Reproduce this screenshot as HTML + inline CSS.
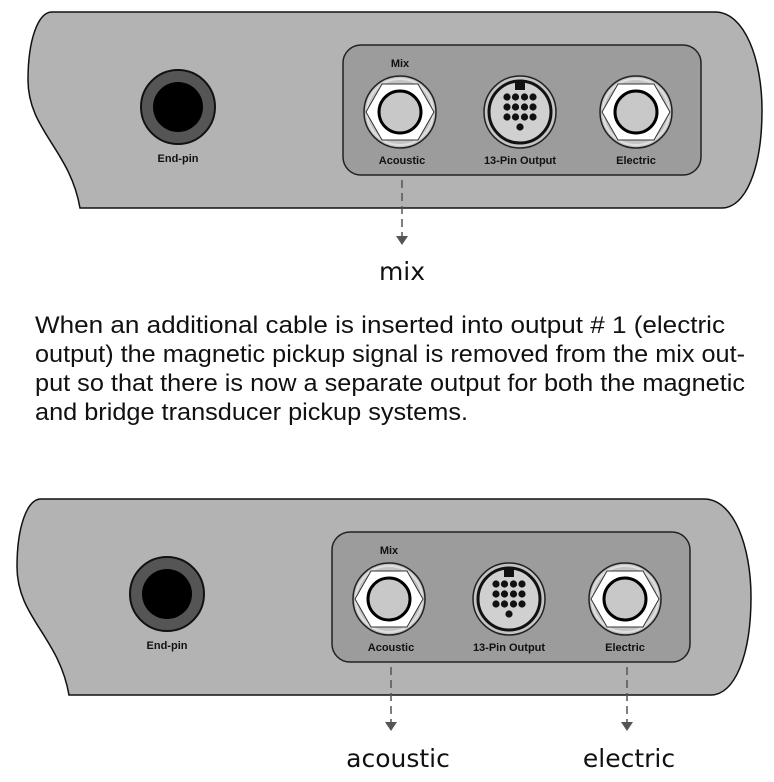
<!DOCTYPE html>
<html><head><style>
html,body{margin:0;padding:0;background:#fff;}
svg{display:block;}
</style></head><body>
<svg width="774" height="782" viewBox="0 0 774 782" xmlns="http://www.w3.org/2000/svg">
<defs>
<g id="jack">
  <circle r="36" fill="#c4c4c4" stroke="#222" stroke-width="1.5"/>
  <circle r="33" fill="none" stroke="#e0e0e0" stroke-width="2"/>
  <polygon points="-34,0 -18,-28 18,-28 34,0 18,28 -18,28" fill="#fff" stroke="#333" stroke-width="1"/>
  <circle r="21" fill="#c8c8c8" stroke="#000" stroke-width="3"/>
</g>
<g id="pin13">
  <circle r="36" fill="#c4c4c4" stroke="#222" stroke-width="1.5"/>
  <circle r="31" fill="#d0d0d0" stroke="#111" stroke-width="3"/>
  <rect x="-5" y="-31" width="10" height="9" fill="#111"/>
  <g fill="#111">
    <circle cx="-13" cy="-15" r="3.6"/><circle cx="-4.5" cy="-15" r="3.6"/><circle cx="4.5" cy="-15" r="3.6"/><circle cx="13" cy="-15" r="3.6"/>
    <circle cx="-13" cy="-5" r="3.6"/><circle cx="-4.5" cy="-5" r="3.6"/><circle cx="4.5" cy="-5" r="3.6"/><circle cx="13" cy="-5" r="3.6"/>
    <circle cx="-13" cy="5" r="3.6"/><circle cx="-4.5" cy="5" r="3.6"/><circle cx="4.5" cy="5" r="3.6"/><circle cx="13" cy="5" r="3.6"/>
    <circle cx="0" cy="15" r="3.6"/>
  </g>
</g>
<g id="unit" font-family="Liberation Sans, sans-serif" font-weight="bold" font-size="11" fill="#111" text-anchor="middle">
  <path d="M52,12 L715,12 C745,12 762,60 762,110 C762,170 745,208 722,208 L80,208 C70,150 28,130 28,80 C28,40 38,12 52,12 Z" fill="#b3b3b3" stroke="#111" stroke-width="1.5"/>
  <circle cx="178" cy="107" r="37" fill="#555" stroke="#111" stroke-width="2"/>
  <circle cx="178" cy="107" r="25" fill="#000"/>
  <text x="178" y="162">End-pin</text>
  <rect x="343" y="45" width="358" height="130" rx="18" fill="#9c9c9c" stroke="#222" stroke-width="1.5"/>
  <text x="400" y="67">Mix</text>
  <use href="#jack" x="400" y="112"/>
  <use href="#pin13" x="520" y="112"/>
  <use href="#jack" x="636" y="112"/>
  <text x="402" y="164">Acoustic</text>
  <text x="520" y="164">13-Pin Output</text>
  <text x="636" y="164">Electric</text>
</g>
</defs>

<use href="#unit" x="0" y="0"/>
<line x1="402" y1="180" x2="402" y2="236" stroke="#555" stroke-width="1.5" stroke-dasharray="8,5"/>
<polygon points="396,236 408,236 402,245" fill="#555"/>
<text x="402" y="280" font-family="DejaVu Sans, sans-serif" font-size="25" text-anchor="middle" fill="#111">mix</text>

<g font-family="Liberation Sans, sans-serif" font-size="24.5" fill="#111">
<text x="35" y="333" textLength="690" lengthAdjust="spacingAndGlyphs">When an additional cable is inserted into output # 1 (electric</text>
<text x="35" y="362" textLength="710" lengthAdjust="spacingAndGlyphs">output) the magnetic pickup signal is removed from the mix out-</text>
<text x="35" y="391" textLength="710" lengthAdjust="spacingAndGlyphs">put so that there is now a separate output for both the magnetic</text>
<text x="35" y="420" textLength="433" lengthAdjust="spacingAndGlyphs">and bridge transducer pickup systems.</text>
</g>

<use href="#unit" x="-11" y="487"/>
<line x1="391" y1="667" x2="391" y2="722" stroke="#555" stroke-width="1.5" stroke-dasharray="8,5"/>
<polygon points="385,722 397,722 391,731" fill="#555"/>
<line x1="627" y1="667" x2="627" y2="722" stroke="#555" stroke-width="1.5" stroke-dasharray="8,5"/>
<polygon points="621,722 633,722 627,731" fill="#555"/>
<text x="398" y="767" font-family="DejaVu Sans, sans-serif" font-size="25" text-anchor="middle" fill="#111">acoustic</text>
<text x="629" y="767" font-family="DejaVu Sans, sans-serif" font-size="25" text-anchor="middle" fill="#111">electric</text>
</svg>
</body></html>
